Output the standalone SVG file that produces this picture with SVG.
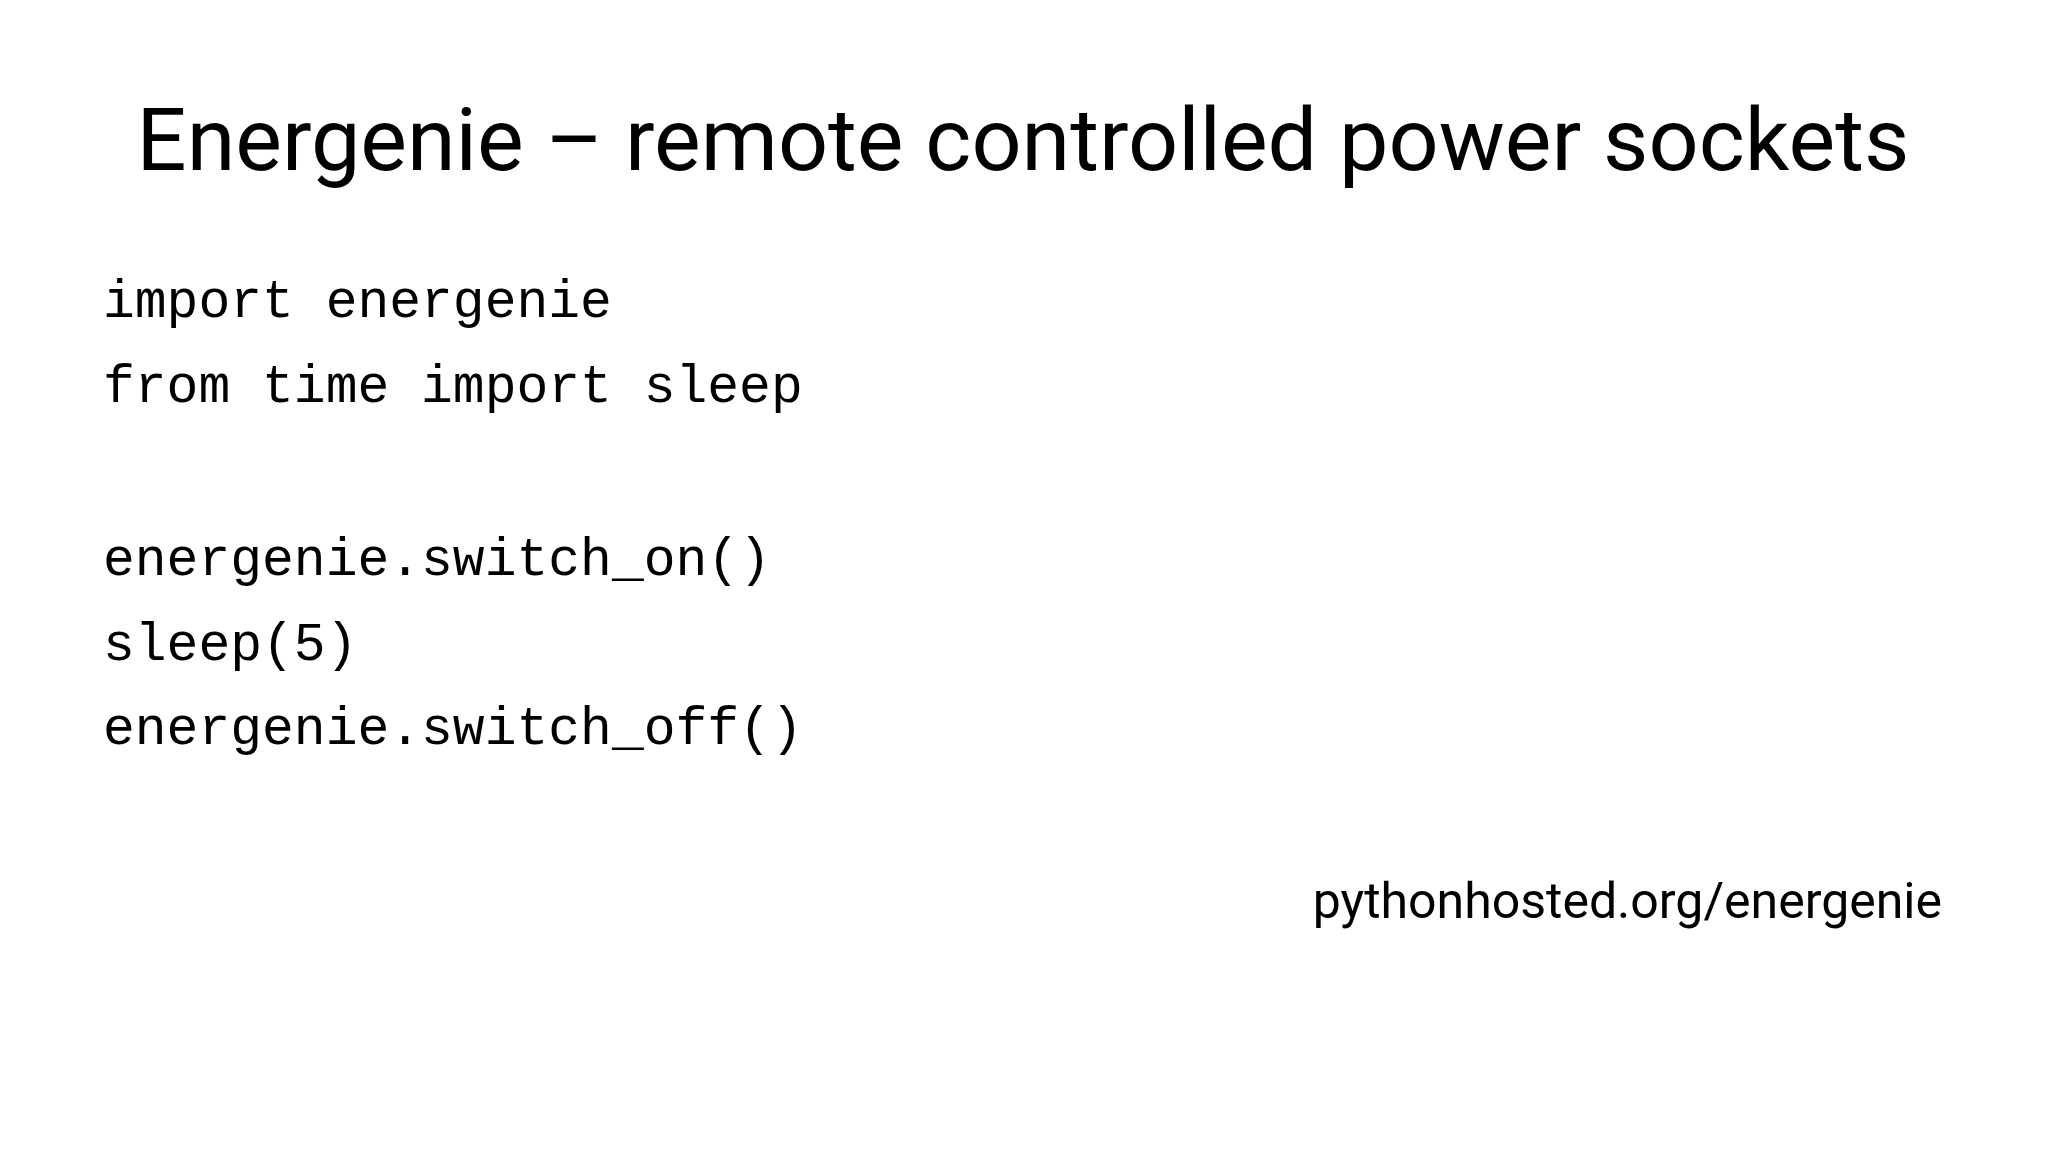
<svg xmlns="http://www.w3.org/2000/svg" width="2048" height="1150" viewBox="0 0 2048 1150">
<style>
.t{font-family:Roboto,"Liberation Sans",sans-serif;fill:#000}
.c{font-family:"Liberation Mono",monospace;font-size:53px;fill:#000}
</style>
<rect width="2048" height="1150" fill="#fff"/>
<text class="t" x="1023" y="170" font-size="88" text-anchor="middle">Energenie – remote controlled power sockets</text>
<g id="code">
<text class="c" x="103" y="317">import energenie</text>
<text class="c" x="103" y="402">from time import sleep</text>
<text class="c" x="103" y="575">energenie.switch_on()</text>
<text class="c" x="103" y="660">sleep(5)</text>
<text class="c" x="103" y="744">energenie.switch_off()</text>
</g>
<text class="t" x="1942" y="918" font-size="50" text-anchor="end">pythonhosted.org/energenie</text>
</svg>
